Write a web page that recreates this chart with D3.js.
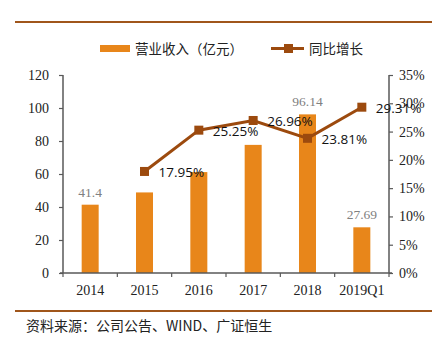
<!DOCTYPE html>
<html>
<head>
<meta charset="utf-8">
<script src="https://cdn.jsdelivr.net/npm/d3@7"></script>
<style>
  body { margin: 0; background: #fff; }
  svg { display: block; }
</style>
</head>
<body>
<svg id="chart" width="432" height="337"></svg>
<script>
var categories = ['2014', '2015', '2016', '2017', '2018', '2019Q1']
var revenue = [41.4, 48.83, 61.16, 77.65, 96.14, 27.69]
var growth = [null, 17.95, 25.25, 26.96, 23.81, 29.31]
var revenueLabels = ['41.4', null, null, null, '96.14', '27.69']
var leftTicks = [0, 20, 40, 60, 80, 100, 120]
var rightTicks = [0, 5, 10, 15, 20, 25, 30, 35]

var svg = d3.select('#chart')
var plotLeft = 63, plotRight = 389, plotTop = 75, plotBottom = 273
var serif = '"Liberation Serif", "Times New Roman", serif'
var cjk = '"Noto Sans CJK SC", sans-serif'
var axisColor = '#595959'
var barColor = '#E8861A'
var lineColor = '#9C4A0E'

var x = d3.scaleBand().domain(categories).range([plotLeft, plotRight])
var y = d3.scaleLinear().domain([0, 120]).range([plotBottom, plotTop])
var y2 = d3.scaleLinear().domain([0, 35]).range([plotBottom, plotTop])

/** frame lines */
svg.append('line').attr('x1', 15).attr('x2', 432).attr('y1', 22).attr('y2', 22)
  .style('stroke', '#A0561B').style('stroke-width', 2)
svg.append('line').attr('x1', 15).attr('x2', 432).attr('y1', 311).attr('y2', 311)
  .style('stroke', '#A0561B').style('stroke-width', 2)

/** legend */
svg.append('rect').attr('x', 100).attr('y', 45).attr('width', 30).attr('height', 7).style('fill', barColor)
svg.append('text').attr('x', 135).attr('y', 53.5).text('营业收入（亿元）')
  .style('font-family', cjk).style('font-size', '13.5px').style('fill', '#222')
svg.append('line').attr('x1', 271).attr('x2', 304).attr('y1', 48.5).attr('y2', 48.5)
  .style('stroke', lineColor).style('stroke-width', 3)
svg.append('rect').attr('x', 284).attr('y', 44).attr('width', 9).attr('height', 9).style('fill', lineColor)
svg.append('text').attr('x', 309).attr('y', 53.5).text('同比增长')
  .style('font-family', cjk).style('font-size', '13.5px').style('fill', '#222')

/** bars */
var bw = 17
var cx = function (c) { return x(c) + x.bandwidth() / 2 }
svg.selectAll('.bar').data(revenue).enter().append('rect')
  .attr('x', function (d, i) { return cx(categories[i]) - bw / 2 })
  .attr('y', function (d) { return y(d) })
  .attr('width', bw)
  .attr('height', function (d) { return plotBottom - y(d) })
  .style('fill', barColor)

var labelled = revenue.map(function (d, i) { return { c: categories[i], v: d, t: revenueLabels[i] } })
  .filter(function (p) { return p.t !== null })
svg.selectAll('.barlabel').data(labelled).enter().append('text')
  .attr('x', function (p) { return cx(p.c) })
  .attr('y', function (p) { return y(p.v) - 8 })
  .attr('text-anchor', 'middle')
  .text(function (p) { return p.t })
  .style('font-family', serif).style('font-size', '13.5px').style('fill', '#808080')

/** axes */
var gl = svg.append('g').attr('transform', 'translate(' + plotLeft + ',0)')
  .call(d3.axisLeft(y).tickValues(leftTicks).tickSize(4).tickPadding(10))
var gr = svg.append('g').attr('transform', 'translate(' + plotRight + ',0)')
  .call(d3.axisRight(y2).tickValues(rightTicks).tickSize(4).tickPadding(6).tickFormat(function (d) { return d + '%' }))
var gb = svg.append('g').attr('transform', 'translate(0,' + plotBottom + ')')
  .call(d3.axisBottom(x).tickSize(0).tickPadding(12))
gb.selectAll('.tick').append('line')
  .attr('x1', -x.bandwidth() / 2).attr('x2', -x.bandwidth() / 2).attr('y1', 0).attr('y2', 4)
gb.append('line').attr('class', 'endtick').attr('x1', plotRight).attr('x2', plotRight).attr('y1', 0).attr('y2', 4)

;[gl, gr, gb].forEach(function (g) {
  g.select('.domain').style('stroke', axisColor).style('stroke-width', 1.5)
  g.selectAll('.tick line, .endtick').style('stroke', axisColor).style('stroke-width', 1.2)
  g.selectAll('text').style('font-family', serif).style('font-size', '14px').style('fill', '#222')
})
gl.select('.domain').attr('d', 'M0,' + plotTop + 'V' + plotBottom)
gr.select('.domain').attr('d', 'M0,' + plotTop + 'V' + plotBottom)
gb.select('.domain').attr('d', 'M' + (plotLeft - 3) + ',0H' + (plotRight + 3))

/** growth line */
var pts = growth.map(function (d, i) { return { c: categories[i], v: d } }).filter(function (p) { return p.v !== null })
var line = d3.line()
  .x(function (p) { return cx(p.c) })
  .y(function (p) { return y2(p.v) })
svg.append('path').datum(pts).attr('d', line)
  .style('fill', 'none').style('stroke', lineColor).style('stroke-width', 3)
svg.selectAll('.marker').data(pts).enter().append('rect')
  .attr('x', function (p) { return cx(p.c) - 4.5 })
  .attr('y', function (p) { return y2(p.v) - 4.5 })
  .attr('width', 9).attr('height', 9)
  .style('fill', lineColor)
svg.selectAll('.growthlabel').data(pts).enter().append('text')
  .attr('x', function (p) { return cx(p.c) + 14 })
  .attr('y', function (p) { return y2(p.v) + 6 })
  .text(function (p) { return p.v.toFixed(2) + '%' })
  .style('font-family', '"Open Sans", "DejaVu Sans", sans-serif').style('font-size', '13.5px').style('fill', '#111')

/** source */
svg.append('text').attr('x', 26).attr('y', 331).text('资料来源：公司公告、WIND、广证恒生')
  .style('font-family', cjk).style('font-size', '14px').style('fill', '#222')
</script>
</body>
</html>
